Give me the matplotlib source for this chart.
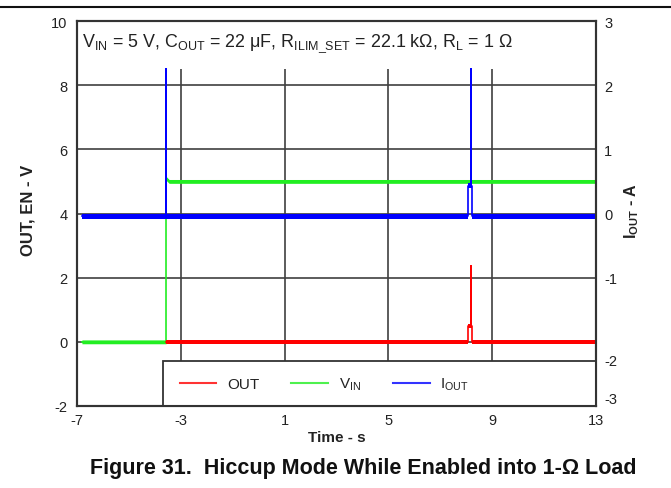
import matplotlib
matplotlib.use("Agg")
import matplotlib.pyplot as plt
from matplotlib.patches import Rectangle
from matplotlib.lines import Line2D

plt.rcParams['font.family'] = ['Liberation Sans', 'DejaVu Sans']
plt.rcParams['mathtext.fontset'] = 'custom'
plt.rcParams['mathtext.rm'] = 'Liberation Sans'
plt.rcParams['mathtext.it'] = 'Liberation Sans:italic'
plt.rcParams['mathtext.bf'] = 'Liberation Sans:bold'
plt.rcParams['mathtext.default'] = 'regular'
plt.rcParams['axes.unicode_minus'] = False

# axis ticks
x_ticks = [-7, -3, 1, 5, 9, 13]
y_ticks = [-2, 0, 2, 4, 6, 8, 10]
i_ticks = [3, 2, 1, 0, -1, -2, -3]
i_tick_pos = [3, 2, 1, 0, -1, -2.27, -2.86]  # -2/-3 labels sit off-grid in the source

# V_IN trace (V)
vin_t = [-6.81, -3.57, -3.57, -3.45, 13.0]
vin_v = [0.0, 0.0, 5.1, 5.0, 5.0]

# OUT trace (V)
out_t = [-3.57, 8.07, 8.07, 8.18, 8.18, 8.18, 8.21, 8.21, 13.0]
out_v = [0.0, 0.0, 0.5, 0.5, 2.36, 0.5, 0.5, 0.0, 0.0]

# I_OUT trace (A)
iout_t = [-6.81, -3.57, -3.57, -3.57, 8.07, 8.07, 8.18, 8.18, 8.18, 8.21, 8.21, 13.0]
iout_a = [-0.045, -0.045, 2.25, -0.045, -0.045, 0.43, 0.43, 2.25, 0.43, 0.43, -0.045, -0.045]

GRID = '#404040'
TXT = '#222222'
RED, GREEN, BLUE = '#ff0000', '#22ee22', '#0000ff'

fig = plt.figure(figsize=(6.71, 4.89), dpi=100)
ax = fig.add_axes([77 / 671, 1 - 407 / 489, 519 / 671, 385 / 489])
ax2 = ax.twinx()

ax.set_xlim(-7, 13)
ax.set_ylim(-2, 10)
ax2.set_ylim(-3, 3)

# scope grid: horizontal lines full width, vertical ones stop at the legend box
ax.hlines(y_ticks[1:-1], -7, 13, color=GRID, lw=1.2, zorder=1)
ax.vlines(x_ticks[1:-1], -0.6, 8.5, color=GRID, lw=1.2, zorder=1)

# traces: thin line plus a band for the noise envelope
ax.fill_between(vin_t, [v - 0.06 for v in vin_v], [v + 0.06 for v in vin_v],
                color=GREEN, lw=0, zorder=2)
ax.plot(vin_t, vin_v, color=GREEN, lw=1.2, zorder=2)
ax.fill_between(out_t, [v - 0.07 for v in out_v], [v + 0.07 for v in out_v],
                color=RED, lw=0, zorder=3)
ax.plot(out_t, out_v, color=RED, lw=1.2, zorder=3)
ax2.fill_between(iout_t, [a - 0.04 for a in iout_a], [a + 0.04 for a in iout_a],
                 color=BLUE, lw=0, zorder=2)
ax2.plot(iout_t, iout_a, color=BLUE, lw=1.2, zorder=2)

# legend box
ax.add_patch(Rectangle((-3.69, -2), 16.69, 1.4, facecolor='white', edgecolor='#333333',
                       lw=1.3, zorder=4, clip_on=False))
handles = [Line2D([], [], color=RED, lw=1.5, alpha=0.8),
           Line2D([], [], color=GREEN, lw=1.5, alpha=0.8),
           Line2D([], [], color=BLUE, lw=1.5, alpha=0.8)]
ax2.legend(handles, ['OUT', r'V$_{IN}$', r'I$_{OUT}$'], ncol=3, frameon=False,
           loc='center left', bbox_to_anchor=(0.198, 0.057), borderpad=0, borderaxespad=0,
           handlelength=2.4, handletextpad=0.7, columnspacing=2.1, fontsize=11,
           labelcolor=TXT)

for a in (ax, ax2):
    for s in a.spines.values():
        s.set_color('#333333')
        s.set_linewidth(1.5)
    a.tick_params(length=0, labelsize=10.5, colors=TXT)

ax.set_xticks(x_ticks)
ax.set_yticks(y_ticks)
ax.tick_params(axis='y', pad=7)
ax.tick_params(axis='x', pad=5)
ax2.set_yticks(i_tick_pos, labels=[str(v) for v in i_ticks])
ax2.tick_params(axis='y', pad=6)

ax.set_xlabel('Time - s', fontweight='bold', fontsize=11, color=TXT)
ax.xaxis.set_label_coords(0.5, -0.063)
ax.set_ylabel('OUT, EN - V', fontweight='bold', fontsize=12, color=TXT)
ax.yaxis.set_label_coords(-0.079, 0.51)
ax2.set_ylabel(r'$\mathbf{I_{OUT}}$ - A', fontweight='bold', fontsize=11.5, color=TXT)
ax2.yaxis.set_label_coords(1.05, 0.51)

ax.text(0.0096, 0.935, r'V$_{IN}$ = 5 V, C$_{OUT}$ = 22 μF, R$_{ILIM\_SET}$ = 22.1 kΩ, R$_L$ = 1 Ω',
        transform=ax.transAxes, fontsize=12.9, color=TXT, va='baseline')

# page rule and caption
fig.add_artist(Line2D([0, 1], [1 - 8 / 489] * 2, transform=fig.transFigure, color='#111111', lw=1.5))
fig.text(0.542, 1 - 474 / 489, 'Figure 31.  Hiccup Mode While Enabled into 1-Ω Load',
         ha='center', va='baseline', fontsize=15.5, fontweight='bold', color='#111111')

fig.savefig('out.png', dpi=100)
